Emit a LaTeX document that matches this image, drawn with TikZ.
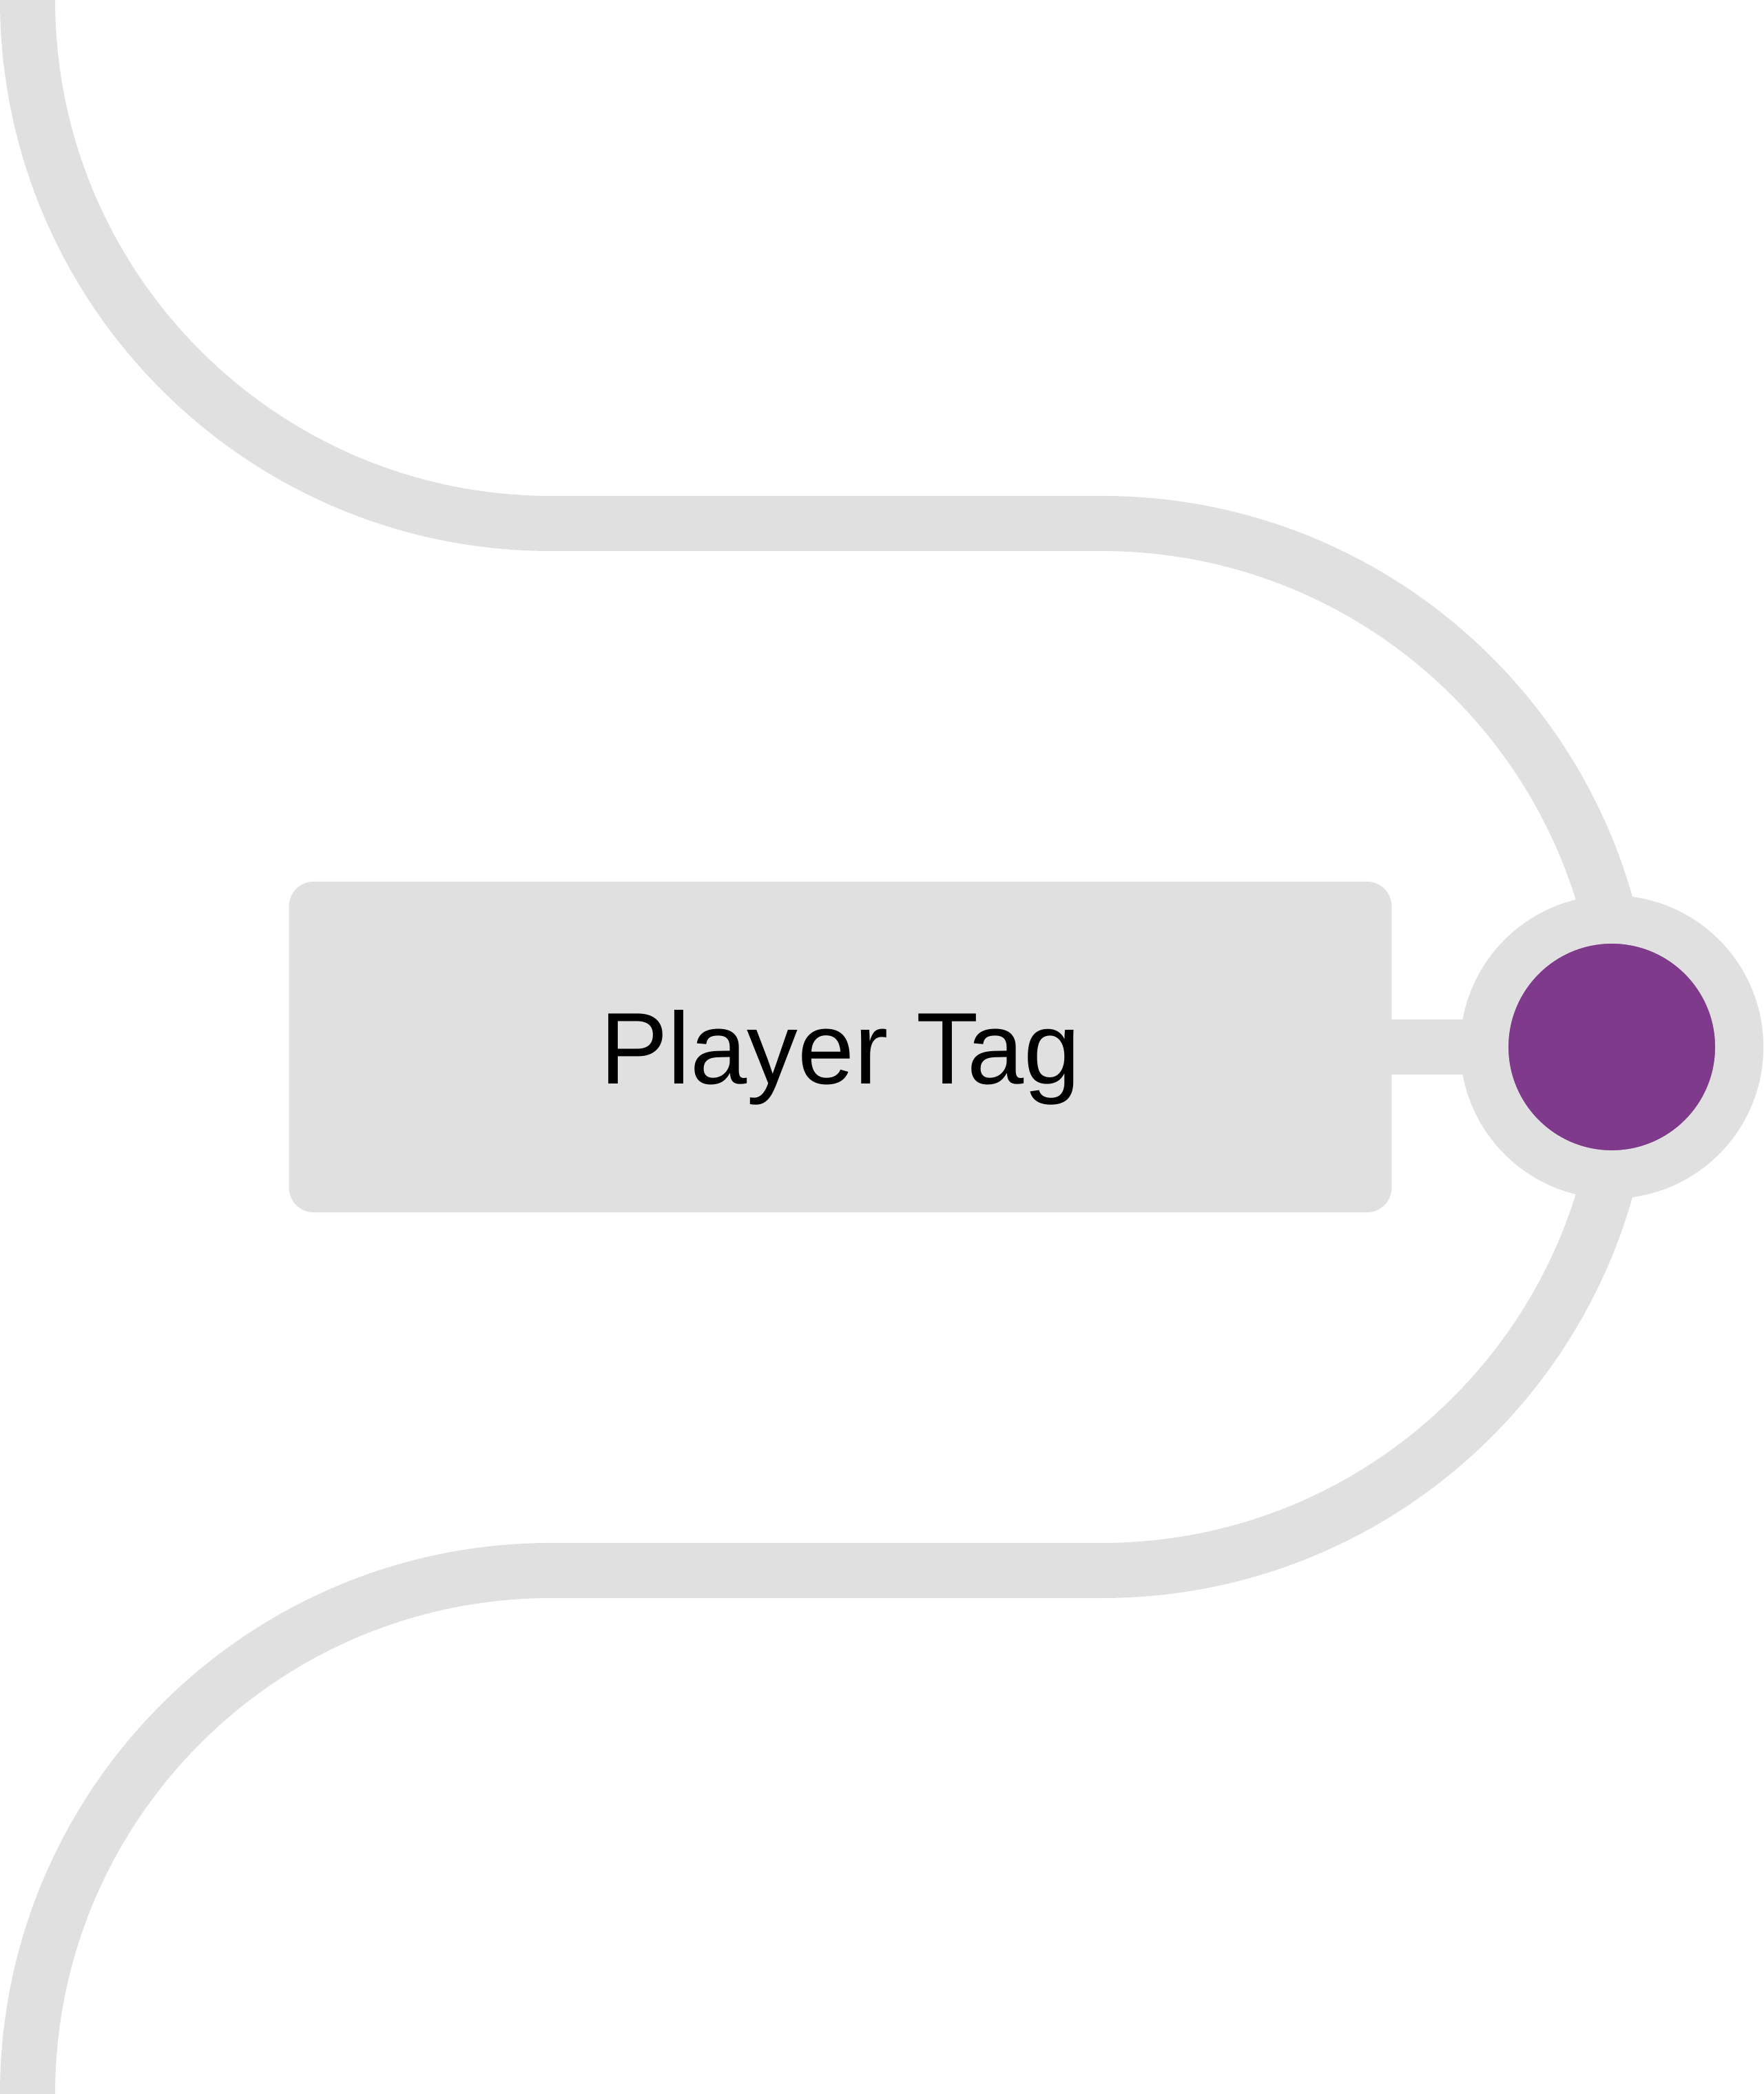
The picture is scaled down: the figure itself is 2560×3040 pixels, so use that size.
\documentclass[tikz,border=0pt]{standalone}
\usepackage{fontspec}
\setmainfont{Liberation Sans}
\usepackage{tikz}
\definecolor{trackgray}{HTML}{E0E0E0}
\definecolor{tagpurple}{HTML}{803A8B}
\begin{document}
\begin{tikzpicture}[x=0.01cm,y=0.01cm,
    track/.style={draw=trackgray,line width=0.8cm},
    tagbox/.style={fill=trackgray,rounded corners=0.36cm,minimum width=16cm,minimum height=4.8cm,
      font=\fontsize{42}{50}\selectfont,text height=1.06cm,text depth=0pt},
    stop/.style={circle,fill=tagpurple,draw=trackgray,line width=0.7cm,minimum size=3.7cm,inner sep=0pt}]
      \useasboundingbox (0,0) rectangle (2560,3040);
      \draw[track] (40,3040) arc[start angle=180,end angle=270,radius=760] -- (1600,2280)
        arc[start angle=90,end angle=0,radius=760]
        arc[start angle=0,end angle=-90,radius=760] -- (800,760)
        arc[start angle=90,end angle=180,radius=760];
      \node[tagbox] (tag) at (1220,1520) {Player Tag};
      \node[stop] (dot) at (2340,1520) {};
      \draw[track,shorten <=-0.2cm,shorten >=-0.2cm] (tag.east) -- (dot);
    \end{tikzpicture}
\end{document}
